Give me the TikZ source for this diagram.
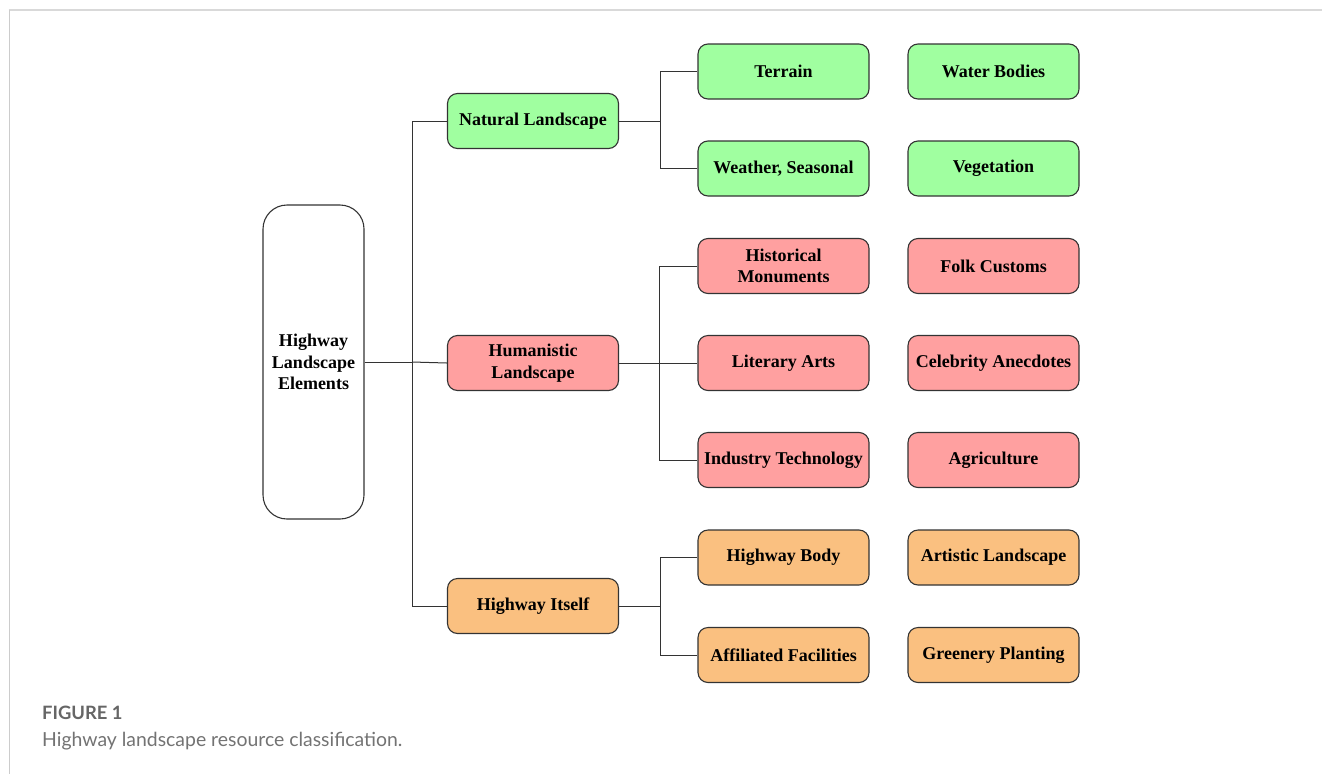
\documentclass[tikz,border=0pt]{standalone}
\usepackage{fontspec}
\setmainfont{Liberation Serif}
\newfontfamily\capfont{Lato}
\begin{document}
\begin{tikzpicture}[x=1pt,y=-1pt,
  box/.style={draw=black!80, line width=1.1pt, rounded corners=10pt,
    minimum width=171pt, minimum height=55pt, align=center, inner sep=2pt,
    font=\fontsize{18}{21.5}\selectfont\bfseries},
  natbox/.style={box, fill=natfill},
  humbox/.style={box, fill=humfill},
  hwybox/.style={box, fill=hwyfill},
  link/.style={draw=black!80, line width=1pt}]
\definecolor{natfill}{RGB}{160,255,160}
\definecolor{humfill}{RGB}{255,160,160}
\definecolor{hwyfill}{RGB}{250,192,128}
\useasboundingbox (0,0) rectangle (1322,774);
\fill[white] (0,0) rectangle (1322,774);

% page frame
\draw[draw=black!15, line width=2pt] (8.5,9.5) -- (1322,9.5);
\draw[draw=black!20, line width=1pt] (9,9.5) -- (9,774);

% root
\node[box, fill=white, rounded corners=24pt, minimum width=101pt, minimum height=314pt]
  (root) at (313.5,362) {Highway\\Landscape\\Elements};

% categories
\node[natbox] (nat) at (533,121) {Natural Landscape};
\node[humbox] (hum) at (533,363) {Humanistic\\Landscape};
\node[hwybox] (hwy) at (533,606) {Highway Itself};

% second column
\node[natbox] (terrain) at (783.5,71.5) {Terrain};
\node[natbox] (weather) at (783.5,168.5) {Weather, Seasonal};
\node[humbox] (hist) at (783.5,266) {Historical\\Monuments};
\node[humbox] (lit) at (783.5,363) {Literary Arts};
\node[humbox] (ind) at (783.5,460) {Industry Technology};
\node[hwybox] (body) at (783.5,557.5) {Highway Body};
\node[hwybox] (fac) at (783.5,655) {Affiliated Facilities};

% third column
\node[natbox] (water) at (993.5,71.5) {Water Bodies};
\node[natbox] (veg) at (993.5,168.5) {Vegetation};
\node[humbox] (folk) at (993.5,266) {Folk Customs};
\node[humbox] (celeb) at (993.5,363) {Celebrity Anecdotes};
\node[humbox] (agri) at (993.5,460) {Agriculture};
\node[hwybox] (art) at (993.5,557.5) {Artistic Landscape};
\node[hwybox] (green) at (993.5,655) {Greenery Planting};

% junction points
\coordinate (trunk) at (412,362);
\coordinate (jnat) at (660,121);
\coordinate (jhum) at (659,363);
\coordinate (jhwy) at (660,606);

% connectors
\draw[link] (root.east) -- (trunk);
\draw[link] (trunk) |- (nat.west);
\draw[link] (trunk) -- (hum.west);
\draw[link] (trunk) |- (hwy.west);

\draw[link] (nat.east) -- (jnat);
\draw[link] (jnat) |- (terrain.west);
\draw[link] (jnat) |- (weather.west);

\draw[link] (hum.east) -- (jhum);
\draw[link] (jhum) |- (hist.west);
\draw[link] (jhum) -- (lit.west);
\draw[link] (jhum) |- (ind.west);

\draw[link] (hwy.east) -- (jhwy);
\draw[link] (jhwy) |- (body.west);
\draw[link] (jhwy) |- (fac.west);

% caption
\node[anchor=base west, inner sep=0pt, text=black!60,
  font=\capfont\fontsize{18.4}{22}\selectfont\bfseries] (figlab) at (42,719) {FIGURE 1};
\node[anchor=base west, inner sep=0pt, text=black!55,
  font=\capfont\fontsize{19.4}{23}\selectfont] (figcap) at (42,746)
  {Highway landscape resource classification.};
\end{tikzpicture}
\end{document}
